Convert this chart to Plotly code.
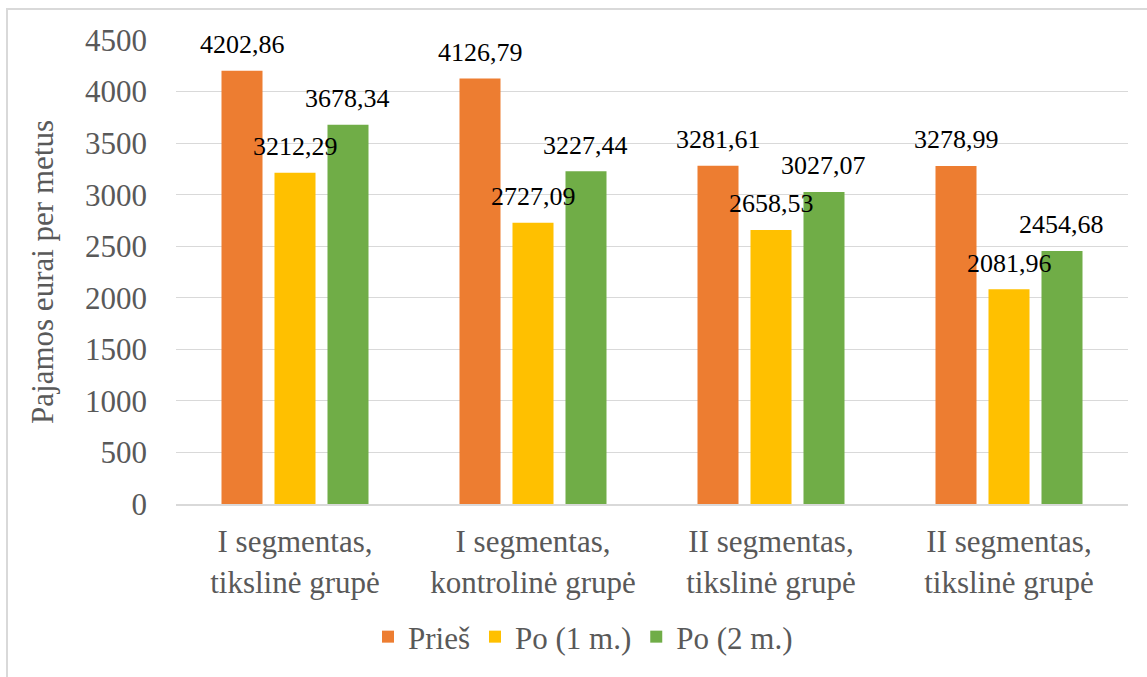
import plotly.graph_objects as go

categories = [
    "I segmentas,<br>tikslinė grupė",
    "I segmentas,<br>kontrolinė grupė",
    "II segmentas,<br>tikslinė grupė",
    "II segmentas,<br>tikslinė grupė",
]
series_names = ["Prieš", "Po (1 m.)", "Po (2 m.)"]
pries = [4202.86, 4126.79, 3281.61, 3278.99]
po1 = [3212.29, 2727.09, 2658.53, 2081.96]
po2 = [3678.34, 3227.44, 3027.07, 2454.68]
y_ticks = [0, 500, 1000, 1500, 2000, 2500, 3000, 3500, 4000, 4500]
y_title = "Pajamos eurai per metus"
colors = ["#ED7D31", "#FFC000", "#70AD47"]

FONT = "Liberation Serif"
GRAY = "#595959"

W, H = 1147, 677
L, R, T, B = 176, 19, 40, 173
PW, PH = W - L - R, H - T - B


def serif(s):
    return f"<span style=\"font-family:'Liberation Serif', serif\">{s}</span>"


x_pos = list(range(len(categories)))
series = [pries, po1, po2]

fig = go.Figure()
for name, vals, col in zip(series_names, series, colors):
    fig.add_trace(go.Bar(x=x_pos, y=vals, name=serif(name),
                         marker=dict(color=col, line=dict(width=0)), hoverinfo="skip"))


def fmt(v):
    return f"{v:.2f}".replace(".", ",")


slot_px = PW / len(categories) * (1 - 0.332) / 3
for si, vals in enumerate(series):
    for xi, v in zip(x_pos, vals):
        fig.add_annotation(
            x=xi, y=v, xref="x", yref="y", text=serif(fmt(v)), showarrow=False,
            xshift=(si - 1) * slot_px, yshift=26, yanchor="middle",
            font=dict(family=FONT, size=26, color="#000000"),
        )

fig.add_shape(
    type="rect", xref="paper", yref="paper",
    x0=(7 - L) / PW, x1=(W + 20 - L) / PW,
    y0=-(H + 20 - (T + PH)) / PH, y1=(T + PH - 9) / PH,
    line=dict(color="#D9D9D9", width=2), fillcolor="rgba(0,0,0,0)", layer="below",
)

fig.update_layout(
    width=W, height=H,
    margin=dict(l=L, r=R, t=T, b=B, autoexpand=False),
    paper_bgcolor="white", plot_bgcolor="white",
    barmode="group", bargap=0.332, bargroupgap=0.226,
    font=dict(family=FONT, size=31, color=GRAY),
    showlegend=True,
    legend=dict(
        orientation="h", x=(368 - L) / PW, xanchor="left",
        y=-(637 - (T + PH)) / PH, yanchor="middle",
        font=dict(family=FONT, size=31, color=GRAY),
        bgcolor="rgba(0,0,0,0)",
    ),
    xaxis=dict(
        range=[-0.5, len(categories) - 0.5],
        tickvals=x_pos, ticktext=[serif(c) for c in categories],
        showline=True, linecolor="#D9D9D9", linewidth=2,
        showgrid=False, zeroline=False, ticks="",
        ticklabelstandoff=9,
        tickfont=dict(family=FONT, size=31, color=GRAY),
    ),
    yaxis=dict(
        range=[0, 4500], tickvals=y_ticks, ticktext=[serif(t) for t in y_ticks],
        showgrid=True, gridcolor="#D9D9D9", gridwidth=1.3,
        zeroline=False, showline=False, ticks="",
        ticklabelstandoff=28,
        tickfont=dict(family=FONT, size=31, color=GRAY),
        title=dict(text=serif(y_title), standoff=22,
                   font=dict(family=FONT, size=31, color=GRAY)),
    ),
)

fig.write_html("out.html", config={"displayModeBar": False},
               post_script="document.body.style.margin='0';document.body.style.padding='0';")
